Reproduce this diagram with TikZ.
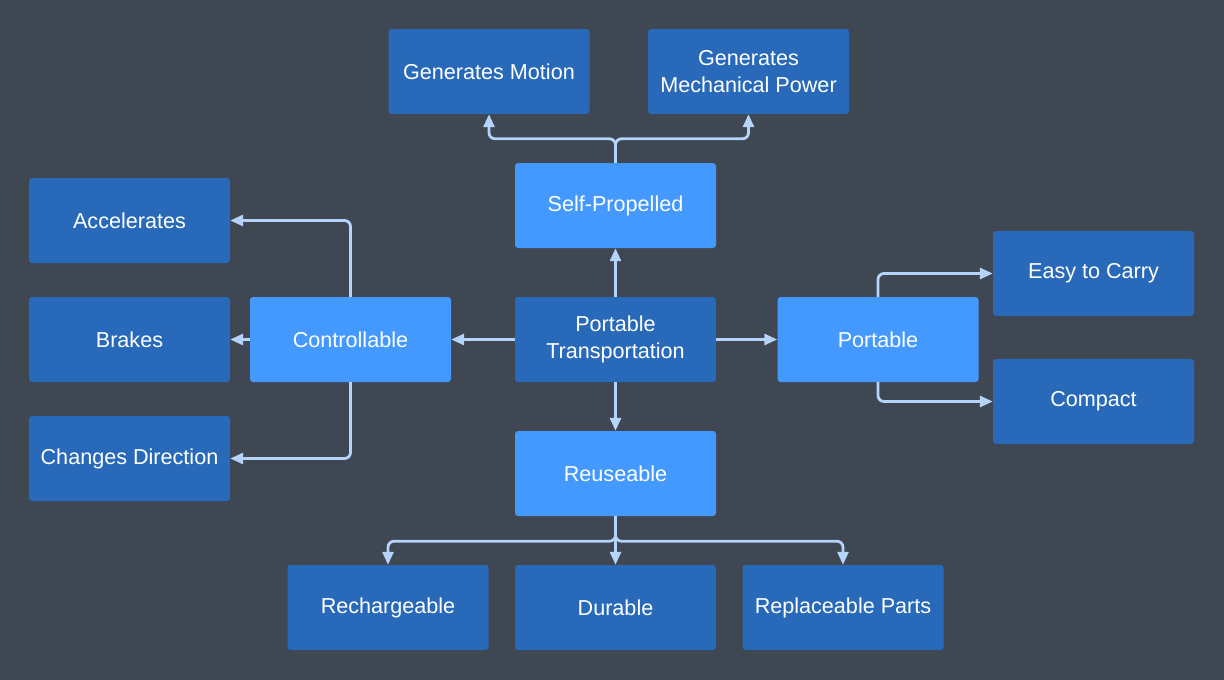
\documentclass[tikz,border=0pt]{standalone}
\usepackage{fontspec}
\setmainfont{Liberation Sans}
\usepackage{tikz}
\usetikzlibrary{arrows.meta}

\definecolor{bgslate}{RGB}{62,71,82}
\definecolor{boxdark}{RGB}{40,106,185}
\definecolor{boxlight}{RGB}{68,153,255}
\definecolor{linkblue}{RGB}{180,212,252}

\tikzset{
    item/.style={fill=boxdark, rounded corners=3pt, minimum width=201pt, minimum height=85pt,
                 inner sep=0pt, text=white, align=center, font=\fontsize{21.6}{27}\selectfont},
    hub/.style={item, fill=boxlight},
    link/.style={draw=linkblue, line width=2.8pt, rounded corners=6pt,
                 -{Triangle[length=13pt,width=11pt]}},
}

\begin{document}
\begin{tikzpicture}[x=1pt,y=-1pt]
                    \fill[bgslate] (0,0) rectangle (1224,680);
                    \useasboundingbox (0,0) rectangle (1224,680);

                    % centre and first ring
                    \node[item] (transport) at (615.5,339.5) {Portable\\Transportation};
                    \node[hub]  (selfprop)  at (615.5,205.5) {Self-Propelled};
                    \node[hub]  (ctrl)      at (350.5,339.5) {Controllable};
                    \node[hub]  (portable)  at (878,339.5)   {Portable};
                    \node[hub]  (reuse)     at (615.5,473.5) {Reuseable};

                    % outer ring
                    \node[item] (motion)    at (489,71.5)    {Generates Motion};
                    \node[item] (mechpower) at (748.5,71.5)  {Generates\\Mechanical Power};
                    \node[item] (accel)     at (129.5,220.5) {Accelerates};
                    \node[item] (brakes)    at (129.5,339.5) {Brakes};
                    \node[item] (steer)     at (129.5,458.5) {Changes Direction};
                    \node[item] (carry)     at (1093.5,273.5){Easy to Carry};
                    \node[item] (compact)   at (1093.5,401.5){Compact};
                    \node[item] (recharge)  at (388,607.5)   {Rechargeable};
                    \node[item] (durable)   at (615.5,607.5) {Durable};
                    \node[item] (parts)     at (843,607.5)   {Replaceable Parts};

                    % links
                    \draw[link] (transport) -- (selfprop);
                    \draw[link] (transport) -- (ctrl);
                    \draw[link] (transport) -- (portable);
                    \draw[link] (transport) -- (reuse);

                    \draw[link] (selfprop.north) -- ++(0,-24) -| (motion.south);
                    \draw[link] (selfprop.north) -- ++(0,-24) -| (mechpower.south);

                    \draw[link] (ctrl.north) |- (accel.east);
                    \draw[link] (ctrl) -- (brakes);
                    \draw[link] (ctrl.south) |- (steer.east);

                    \draw[link] (portable.north) |- (carry.west);
                    \draw[link] (portable.south) |- (compact.west);

                    \draw[link] (reuse.south) -- ++(0,25) -| (recharge.north);
                    \draw[link] (reuse) -- (durable);
                    \draw[link] (reuse.south) -- ++(0,25) -| (parts.north);
                \end{tikzpicture}
\end{document}
